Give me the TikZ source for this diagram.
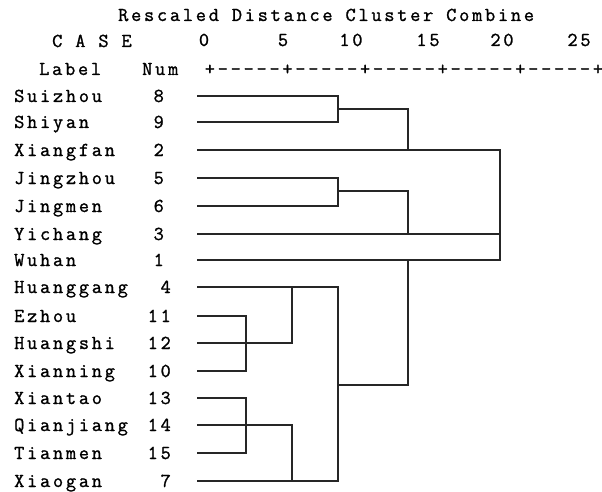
\documentclass[tikz,border=0pt]{standalone}
\usepackage{fontspec}
\setmonofont{Latin Modern Mono}[LetterSpace=14, FakeBold=1.2]
\begin{document}
\begin{tikzpicture}[x=1pt,y=-1pt,
  txt/.style={inner sep=0pt, anchor=base west, text=black,
    font=\ttfamily\fontsize{19.75}{20}\selectfont},
  numtxt/.style={txt, anchor=base east},
  ticktxt/.style={txt, anchor=base},
  tree/.style={line width=1.4pt, draw=black!85, line cap=rect}]
\useasboundingbox (0,0) rectangle (602,492);
% header
\node[txt] (title) at (118,21) {Rescaled Distance Cluster Combine};
\node[txt] (case) at (52,47) {C A S E};
\node[ticktxt] (t0) at (204,46) {0};
\node[ticktxt] (t5) at (283,46) {5};
\node[ticktxt] (t10) at (351,46) {10};
\node[ticktxt] (t15) at (428,46) {15};
\node[ticktxt] (t20) at (502,46) {20};
\node[ticktxt] (t25) at (579,46) {25};
\node[txt] (labhead) at (39,75) {Label};
\node[txt] (numhead) at (142,75) {Num};
\node[txt] (ruler) at (204.6,75) {+-----+-----+-----+-----+-----+};
% rows
\foreach \nm/\k/\yy/\nx in {Suizhou/8/96/164, Shiyan/9/122/164, Xiangfan/2/150/164,
  Jingzhou/5/178/164, Jingmen/6/206/164, Yichang/3/234/164, Wuhan/1/260/164,
  Huanggang/4/287/171, Ezhou/11/316/171, Huangshi/12/343/171, Xianning/10/371/171,
  Xiantao/13/398/171, Qianjiang/14/425/171, Tianmen/15/453/171, Xiaogan/7/481/171}{
  \node[txt] (lab\k) at (14,\yy+6) {\nm};
  \node[numtxt] (num\k) at (\nx,\yy+6) {\k};
  \coordinate (s\k) at (198,\yy);
}
% junction points
\coordinate (a89) at (338,109);
\coordinate (a56) at (338,191);
\coordinate (m2) at (408,150);
\coordinate (m3) at (408,234);
\coordinate (m1) at (408,260);
\coordinate (r2) at (500,150);
\coordinate (r3) at (500,234);
\coordinate (r1) at (500,260);
\coordinate (e1) at (246,343);
\coordinate (f1) at (292,343);
\coordinate (g4) at (338,287);
\coordinate (e2) at (246,425);
\coordinate (f2) at (292,425);
\coordinate (g7) at (338,481);
\coordinate (alow) at (338,385);
% upper tree
\draw[tree] (s8) -| (a89) |- (s9);
\draw[tree] (a89) -| (m2);
\draw[tree] (s5) -| (a56) |- (s6);
\draw[tree] (a56) -| (m3);
\draw[tree] (s2) -- (r2) -- (r1) -- (s1);
\draw[tree] (s3) -- (r3);
% lower tree
\draw[tree] (s11) -| (e1) |- (s10);
\draw[tree] (s12) -- (f1);
\draw[tree] (f1) -- (f1 |- s4);
\draw[tree] (s4) -- (g4);
\draw[tree] (s13) -| (e2) |- (s15);
\draw[tree] (s14) -- (f2);
\draw[tree] (f2) -- (f2 |- s7);
\draw[tree] (s7) -- (g7);
\draw[tree] (g4) -- (g7);
\draw[tree] (alow) -| (m1);
\end{tikzpicture}
\end{document}
